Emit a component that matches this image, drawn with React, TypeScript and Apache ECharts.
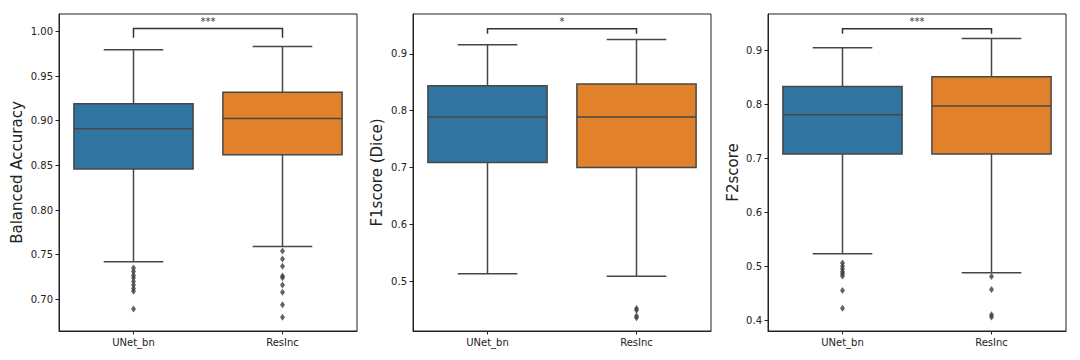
import React, { useEffect, useRef } from "react";
import * as echarts from "echarts";

const CATEGORIES = ["UNet_bn", "ResInc"];
const PALETTE = ["#3274a1", "#e1812c"];

// [lower whisker, Q1, median, Q3, upper whisker]
const UNET_BA = [0.742, 0.846, 0.891, 0.919, 0.9795];
const RESINC_BA = [0.759, 0.862, 0.9025, 0.932, 0.983];
const UNET_F1 = [0.513, 0.709, 0.789, 0.844, 0.916];
const RESINC_F1 = [0.509, 0.7, 0.789, 0.847, 0.925];
const UNET_F2 = [0.523, 0.708, 0.781, 0.833, 0.905];
const RESINC_F2 = [0.488, 0.708, 0.797, 0.851, 0.922];

const UNET_BA_OUT = [0.735, 0.731, 0.727, 0.724, 0.72, 0.716, 0.712, 0.709, 0.689];
const RESINC_BA_OUT = [0.754, 0.745, 0.737, 0.726, 0.724, 0.716, 0.708, 0.694, 0.68];
const UNET_F1_OUT: number[] = [];
const RESINC_F1_OUT = [0.452, 0.449, 0.439, 0.436];
const UNET_F2_OUT = [0.506, 0.5, 0.495, 0.49, 0.486, 0.482, 0.455, 0.422];
const RESINC_F2_OUT = [0.481, 0.457, 0.41, 0.406];

const BA_TICKS = [0.7, 0.75, 0.8, 0.85, 0.9, 0.95, 1.0];
const F1_TICKS = [0.5, 0.6, 0.7, 0.8, 0.9];
const F2_TICKS = [0.4, 0.5, 0.6, 0.7, 0.8, 0.9];

const Y_NAMES = ["Balanced Accuracy", "F1score (Dice)", "F2score"];
const Y_RANGES = [
  [0.6645, 1.0195],
  [0.4125, 0.97],
  [0.38, 0.9675],
];
const SIG_LABELS = ["***", "*", "***"];
// [bracket top, bracket foot]
const SIG_BA = [1.0034, 0.993];
const SIG_F1 = [0.944, 0.9352];
const SIG_F2 = [0.9403, 0.931];

const FONT = "DejaVu Sans";
const GRAY = "#474747";

const GRIDS = [
  { left: 59, top: 14, width: 298, height: 317 },
  { left: 413, top: 14, width: 298, height: 317 },
  { left: 768, top: 14, width: 298, height: 317 },
];
const NAME_GAPS = [35, 29, 28];
const DECIMALS = [2, 1, 1];

export default function App() {
  const ref = useRef<HTMLDivElement>(null);
  useEffect(() => {
    if (!ref.current) return;
    const chart = echarts.init(ref.current, null, { renderer: "svg" });

    const boxes = [
      [UNET_BA, RESINC_BA],
      [UNET_F1, RESINC_F1],
      [UNET_F2, RESINC_F2],
    ];
    const outliers = [
      [UNET_BA_OUT, RESINC_BA_OUT],
      [UNET_F1_OUT, RESINC_F1_OUT],
      [UNET_F2_OUT, RESINC_F2_OUT],
    ];
    const sigs = [SIG_BA, SIG_F1, SIG_F2];
    const ticks = [BA_TICKS, F1_TICKS, F2_TICKS];

    const boxRender = (params: any, api: any) => {
      const x = api.value(0);
      const band = api.size([1, 0])[0];
      const boxW = band * 0.8;
      const capW = boxW / 2;
      const lo = api.coord([x, api.value(1)]);
      const q1 = api.coord([x, api.value(2)]);
      const med = api.coord([x, api.value(3)]);
      const q3 = api.coord([x, api.value(4)]);
      const hi = api.coord([x, api.value(5)]);
      const cx = lo[0];
      const ls = { stroke: GRAY, lineWidth: 1.5 };
      return {
        type: "group",
        children: [
          { type: "line", shape: { x1: cx, y1: q3[1], x2: cx, y2: hi[1] }, style: ls },
          { type: "line", shape: { x1: cx - capW / 2, y1: hi[1], x2: cx + capW / 2, y2: hi[1] }, style: ls },
          { type: "line", shape: { x1: cx, y1: q1[1], x2: cx, y2: lo[1] }, style: ls },
          { type: "line", shape: { x1: cx - capW / 2, y1: lo[1], x2: cx + capW / 2, y2: lo[1] }, style: ls },
          {
            type: "rect",
            shape: { x: cx - boxW / 2, y: q3[1], width: boxW, height: q1[1] - q3[1] },
            style: { fill: PALETTE[x], stroke: GRAY, lineWidth: 1.5 },
          },
          { type: "line", shape: { x1: cx - boxW / 2, y1: med[1], x2: cx + boxW / 2, y2: med[1] }, style: ls },
        ],
      };
    };

    const sigRender = (idx: number) => (params: any, api: any) => {
      const top = api.value(0);
      const foot = api.value(1);
      const a0 = api.coord([0, foot]);
      const a1 = api.coord([0, top]);
      const b1 = api.coord([1, top]);
      const b0 = api.coord([1, foot]);
      return {
        type: "group",
        children: [
          {
            type: "polyline",
            shape: { points: [a0, a1, b1, b0] },
            style: { stroke: "#333", lineWidth: 1.5, fill: null },
          },
          {
            type: "text",
            style: {
              text: SIG_LABELS[idx],
              x: (a1[0] + b1[0]) / 2,
              y: a1[1] - 2,
              align: "center",
              verticalAlign: "bottom",
              textAlign: "center",
              textVerticalAlign: "bottom",
              font: `10px "${FONT}"`,
              fill: "#333",
            },
          },
        ],
      };
    };

    const grid: any[] = [];
    const xAxis: any[] = [];
    const yAxis: any[] = [];
    const series: any[] = [];

    for (let i = 0; i < 3; i++) {
      grid.push({ ...GRIDS[i], show: true, borderColor: "#222", borderWidth: 1, backgroundColor: "transparent" });
      xAxis.push({
        type: "category",
        gridIndex: i,
        data: CATEGORIES,
        boundaryGap: true,
        axisLine: { show: true, lineStyle: { color: "#222", width: 1 } },
        axisTick: { show: true, alignWithLabel: true, length: 3.5, lineStyle: { color: "#222" } },
        axisLabel: { fontFamily: FONT, fontSize: 10, color: "#222", margin: 6 },
        splitLine: { show: false },
      });
      const dec = DECIMALS[i];
      yAxis.push({
        type: "value",
        gridIndex: i,
        min: Y_RANGES[i][0],
        max: Y_RANGES[i][1],
        name: Y_NAMES[i],
        nameLocation: "middle",
        nameGap: NAME_GAPS[i],
        nameTextStyle: { fontFamily: FONT, fontSize: 15, color: "#222" },
        axisLine: { show: true, lineStyle: { color: "#222", width: 1 } },
        axisTick: { show: true, length: 3.5, lineStyle: { color: "#222" }, customValues: ticks[i] },
        axisLabel: {
          fontFamily: FONT,
          fontSize: 10,
          color: "#222",
          margin: 6,
          customValues: ticks[i],
          formatter: (v: number) => v.toFixed(dec),
        },
        splitLine: { show: false },
      });
      series.push({
        type: "custom",
        xAxisIndex: i,
        yAxisIndex: i,
        renderItem: boxRender,
        encode: { x: 0, y: [1, 2, 3, 4, 5] },
        data: boxes[i].map((b, k) => [k, ...b]),
        z: 2,
      });
      const outData: number[][] = [];
      outliers[i].forEach((arr, k) => arr.forEach((v) => outData.push([k, v])));
      series.push({
        type: "scatter",
        xAxisIndex: i,
        yAxisIndex: i,
        symbol: "diamond",
        symbolSize: [5, 7],
        itemStyle: { color: "#3d3d3d" },
        data: outData,
        z: 3,
      });
      series.push({
        type: "custom",
        xAxisIndex: i,
        yAxisIndex: i,
        renderItem: sigRender(i),
        encode: { y: [0, 1] },
        data: [[sigs[i][0], sigs[i][1]]],
        z: 4,
        clip: false,
      });
    }

    chart.setOption({
      animation: false,
      backgroundColor: "#fff",
      textStyle: { fontFamily: FONT },
      grid,
      xAxis,
      yAxis,
      series,
    });
    return () => chart.dispose();
  }, []);

  return (
    <div
      ref={ref}
      style={{ position: "fixed", left: 0, top: 0, width: 1080, height: 360, background: "#fff" }}
    />
  );
}
